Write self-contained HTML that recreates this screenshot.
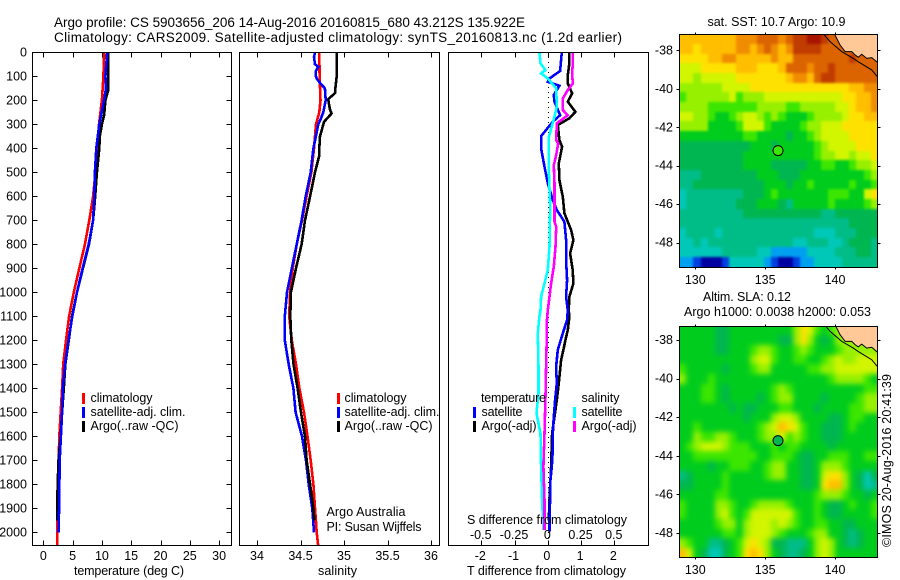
<!DOCTYPE html>
<html>
<head>
<meta charset="utf-8">
<title>Argo profile chart</title>
<style>
html,body{margin:0;padding:0;background:#fff;}
svg{display:block;}
text{font-family:"Liberation Sans",sans-serif;font-size:12.5px;fill:#000;}
text.big{font-size:13.5px;}
</style>
</head>
<body>
<svg id="chart" xmlns="http://www.w3.org/2000/svg" width="900" height="580" viewBox="0 0 900 580">
<defs>
<clipPath id="clip-temp"><rect x="32" y="52" width="199" height="493"/></clipPath>
<clipPath id="clip-sal"><rect x="239" y="52" width="200" height="493"/></clipPath>
<clipPath id="clip-diff"><rect x="448" y="52" width="200" height="493"/></clipPath>
<clipPath id="clip-map1"><rect x="679" y="34" width="198" height="233"/></clipPath>
<clipPath id="clip-map2"><rect x="679" y="326" width="198" height="231"/></clipPath>
<filter id="blur-sst" filterUnits="userSpaceOnUse" x="650" y="0" width="250" height="300" color-interpolation-filters="sRGB"><feGaussianBlur stdDeviation="1.2"/></filter>
<filter id="blur-sla" filterUnits="userSpaceOnUse" x="650" y="300" width="250" height="280" color-interpolation-filters="sRGB"><feGaussianBlur stdDeviation="2.6"/></filter>
</defs>
<rect x="0" y="0" width="900" height="580" fill="#fff"/>
<text class="big" x="54" y="27" textLength="471" lengthAdjust="spacing">Argo profile: CS 5903656_206 14-Aug-2016 20160815_680 43.212S 135.922E</text>
<text class="big" x="54" y="42" textLength="568" lengthAdjust="spacing">Climatology: CARS2009. Satellite-adjusted climatology: synTS_20160813.nc (1.2d earlier)</text>

<g id="maps"></g>
<g id="panels"></g>
<g id="labels"></g>

<text x="74" y="575" textLength="110" lengthAdjust="spacing">temperature (deg C)</text>
<text x="318" y="575" textLength="39" lengthAdjust="spacing">salinity</text>
<text x="467" y="575" textLength="159" lengthAdjust="spacing">T difference from climatology</text>
<text x="467" y="524" textLength="160" lengthAdjust="spacing">S difference from climatology</text>

<g>
<rect x="82" y="393" width="3" height="11" fill="#f00"/>
<rect x="82" y="407" width="3" height="11" fill="#00f"/>
<rect x="82" y="421" width="3" height="11" fill="#000"/>
<text x="90.5" y="402" textLength="62" lengthAdjust="spacing">climatology</text>
<text x="90.5" y="416" textLength="95" lengthAdjust="spacing">satellite-adj. clim.</text>
<text x="90.5" y="430" textLength="88" lengthAdjust="spacing">Argo(..raw -QC)</text>
</g>
<g>
<rect x="337" y="393" width="3" height="11" fill="#f00"/>
<rect x="337" y="407" width="3" height="11" fill="#00f"/>
<rect x="337" y="421" width="3" height="11" fill="#000"/>
<text x="344.5" y="402" textLength="62" lengthAdjust="spacing">climatology</text>
<text x="344.5" y="416" textLength="95" lengthAdjust="spacing">satellite-adj. clim.</text>
<text x="344.5" y="430" textLength="88" lengthAdjust="spacing">Argo(..raw -QC)</text>
</g>
<g>
<text x="481" y="402" textLength="65" lengthAdjust="spacing">temperature</text>
<text x="581.5" y="402" textLength="38" lengthAdjust="spacing">salinity</text>
<rect x="473" y="407" width="3" height="11" fill="#00f"/>
<rect x="473" y="421" width="3" height="11" fill="#000"/>
<rect x="573" y="407" width="3" height="11" fill="#0ff"/>
<rect x="573" y="421" width="3" height="11" fill="#f0f"/>
<text x="481.5" y="416" textLength="41" lengthAdjust="spacing">satellite</text>
<text x="481.5" y="430" textLength="55" lengthAdjust="spacing">Argo(-adj)</text>
<text x="581.5" y="416" textLength="41" lengthAdjust="spacing">satellite</text>
<text x="581.5" y="430" textLength="55" lengthAdjust="spacing">Argo(-adj)</text>
</g>
<text x="326.5" y="516" textLength="79" lengthAdjust="spacing">Argo Australia</text>
<text x="326.5" y="531" textLength="95" lengthAdjust="spacing">PI: Susan Wijffels</text>

<text x="707.5" y="26" textLength="138" lengthAdjust="spacing">sat. SST: 10.7 Argo: 10.9</text>
<text x="703" y="301" textLength="88" lengthAdjust="spacing">Altim. SLA: 0.12</text>
<text x="684" y="316" textLength="187" lengthAdjust="spacing">Argo h1000: 0.0038 h2000: 0.053</text>
<text transform="translate(891,547) rotate(-90)" x="0" y="0" textLength="173" lengthAdjust="spacing">©IMOS 20-Aug-2016 20:41:39</text>
</svg>

<script>
/* ---------- tick values ---------- */
const depthTicks = [0,100,200,300,400,500,600,700,800,900,1000,1100,1200,1300,1400,1500,1600,1700,1800,1900,2000];
const tempTicks = [0,5,10,15,20,25,30];
const salTicks = [34,34.5,35,35.5,36];
const salTickLabels = ['34','34.5','35','35.5','36'];
const tDiffTicks = [-2,-1,0,1,2];
const sDiffTicks = [-0.5,-0.25,0,0.25,0.5];
const sDiffTickLabels = ['-0.5','-0.25','0','0.25','0.5'];
const latTicks = [38,40,42,44,46,48];
const lonTicks = [130,135,140];

/* ---------- temperature profiles ---------- */
const tempClimDepth = [0,100,200,300,400,500,600,700,800,900,1000,1100,1200,1300,1400,1500,1600,1700,1800,1900,2000,2060];
const tempClimValue = [10.4,10.25,10.0,9.5,9.2,8.9,8.5,7.85,7.1,6.15,5.2,4.4,3.87,3.4,3.2,2.97,2.73,2.63,2.5,2.45,2.4,2.4];
const tempSatDepth = [0,100,150,200,300,400,500,600,700,800,900,1000,1100,1200,1300,1400,1500,1600,1700,1800,1900,2000];
const tempSatValue = [10.9,10.6,10.7,10.35,9.55,9.05,8.8,8.7,8.5,7.75,6.7,5.75,4.95,4.3,3.7,3.35,3.2,3.0,2.8,2.75,2.7,2.6];
const tempArgoDepth = [0,100,160,200,260,300,350,400,500,600,700,800,900,1000,1100,1200,1300,1400,1500,1600,1700,1800,1900,1950];
const tempArgoValue = [11.1,11.05,11.05,10.6,10.4,10.0,9.65,9.55,9.15,8.85,8.5,7.8,6.75,5.75,4.9,4.35,3.75,3.5,3.2,2.95,2.6,2.45,2.35,2.35];

/* ---------- salinity profiles ---------- */
const salClimDepth = [0,100,200,250,300,400,500,600,700,800,900,1000,1100,1200,1300,1400,1500,1600,1700,1800,1900,2000,2060];
const salClimValue = [34.716,34.72,34.73,34.716,34.678,34.655,34.625,34.57,34.517,34.456,34.41,34.38,34.37,34.40,34.448,34.487,34.54,34.58,34.617,34.648,34.667,34.686,34.705];
const salSatDepth = [0,20,50,60,80,95,110,130,150,200,250,280,300,400,500,600,700,800,900,1000,1100,1200,1300,1400,1500,1600,1700,1800,1900,2000];
const salSatValue = [34.667,34.655,34.667,34.705,34.674,34.674,34.686,34.73,34.78,34.79,34.762,34.73,34.705,34.648,34.617,34.56,34.513,34.456,34.40,34.345,34.32,34.32,34.364,34.418,34.444,34.517,34.563,34.594,34.636,34.655];
const salArgoDepth = [0,100,140,170,195,210,240,255,270,290,310,350,400,430,500,600,700,800,900,1000,1100,1200,1300,1400,1500,1600,1700,1800,1900,1950];
const salArgoValue = [34.916,34.916,34.904,34.896,34.82,34.824,34.84,34.858,34.82,34.77,34.755,34.724,34.716,34.716,34.667,34.61,34.552,34.513,34.448,34.39,34.383,34.394,34.42,34.467,34.506,34.552,34.57,34.61,34.648,34.66];

/* ---------- difference profiles ---------- */
const dTSatDepth = [0,78,109,123,139,178,206,262,289,349,400,477,546,616,657,706,782,866,949,1018,1074,1115,1171,1240,1310,1379,1449,1518,1588,1657,1726,1796,1865,1935,1997];
const dTSatValue = [0.42,0.37,0.05,0,0.35,0.18,0.2,0.37,0.15,-0.2,-0.2,-0.1,0,0.15,0.27,0.5,0.55,0.55,0.58,0.55,0.6,0.58,0.45,0.3,0.25,0.27,0.22,0.18,0.15,0.15,0.12,0.07,0.07,0.05,0.05];
const dTArgoDepth = [0,46,95,130,171,206,248,275,303,366,393,463,532,602,671,741,782,838,907,963,1018,1074,1101,1157,1199,1240,1282,1379,1449,1518,1588,1726,1865,1950];
const dTArgoValue = [0.65,0.65,0.6,0.6,0.73,0.6,0.83,0.65,0.3,0.35,0.43,0.33,0.35,0.45,0.5,0.7,0.77,0.67,0.75,0.77,0.65,0.63,0.65,0.6,0.53,0.47,0.4,0.33,0.27,0.2,0.13,0.1,0.05,0.03];
const dSSatDepth = [0,46,74,88,109,150,227,268,352,504,643,810,907,963,1018,1074,1101,1171,1310,1421,1504,1588,1726,1865,1990];
const dSSatValue = [-0.063,-0.055,-0.018,-0.05,0,0.063,0.068,0.05,0.008,0.008,0.018,0.013,0,-0.025,-0.05,-0.055,-0.063,-0.075,-0.07,-0.07,-0.085,-0.055,-0.05,-0.043,-0.033];
const dSArgoDepth = [0,46,88,130,157,192,241,262,296,366,380,428,470,546,616,706,727,810,893,963,1018,1074,1129,1199,1310,1449,1588,1726,1865,1949,1990];
const dSArgoValue = [0.188,0.188,0.183,0.188,0.15,0.113,0.113,0.15,0.068,0.063,0.078,0.063,0.045,0.05,0.05,0.05,0.063,0.058,0.045,0.025,0.013,0,-0.008,-0.008,-0.013,-0.018,-0.025,-0.033,-0.025,-0.025,-0.025];

/* ---------- coast and contour (degrees) ---------- */
const landLon = [139.86,140.36,140.72,141.2,141.43,141.67,141.91,142.27,142.63,143.06,143.06,139.86];
const landLat = [37.0,37.72,38.07,38.07,38.24,38.36,38.21,38.42,38.38,38.64,37.0,37.0];
const contourLon = [139.0,139.64,140.48,141.31,141.65,142.63,143.06];
const contourLat = [37.0,37.55,38.07,38.42,38.59,39.02,39.4];
const profileLon = [135.922];
const profileLat = [43.212];

/* ---------- satellite SST map, colour level per 0.5 degree cell ---------- */
const sstGrid = [
[12,12,12,12,12,12,12,12,13,13,13,14,14,14,13,14,15,15,16,16,15,14,14,14,14,14,14,14],
[12,12,11,12,12,12,12,12,13,13,12,13,14,13,12,13,15,15,15,15,14,14,14,14,14,14,14,14],
[11,11,11,11,12,12,13,13,12,12,12,12,12,13,12,12,14,14,14,14,14,14,14,14,15,14,14,14],
[10,10,10,11,11,11,11,11,12,12,12,11,11,11,12,14,14,14,13,14,14,15,14,14,14,14,14,14],
[10,10,9,10,10,10,10,10,11,11,11,11,11,11,11,12,13,13,12,14,15,15,14,14,14,14,14,14],
[9,9,9,9,9,9,10,10,10,10,11,11,11,11,11,11,11,11,11,11,11,11,11,11,12,12,13,13],
[8,9,9,9,9,9,9,10,8,9,9,9,10,10,10,10,10,10,10,10,10,10,10,11,11,12,12,13],
[9,9,9,9,8,8,8,8,8,8,8,9,9,9,9,8,8,9,9,9,9,9,10,10,11,12,12,13],
[10,10,9,9,8,7,7,8,9,10,10,9,8,9,8,7,7,7,8,9,9,9,9,10,11,11,12,12],
[9,9,9,9,7,7,7,7,8,10,10,10,8,7,7,7,7,8,9,9,10,10,10,11,11,11,11,11],
[7,7,7,7,7,7,7,7,7,8,8,7,7,7,7,6,7,7,8,9,10,10,10,10,11,11,11,11],
[6,6,6,6,6,6,6,6,6,6,7,7,7,6,7,7,7,7,7,8,9,10,10,10,10,11,11,11],
[6,6,6,6,6,6,6,6,6,7,7,7,7,7,7,7,7,7,7,8,9,9,10,10,9,10,10,11],
[6,6,6,6,6,6,6,6,6,7,7,7,7,6,6,6,6,6,7,7,8,8,7,7,8,9,9,10],
[5,5,5,6,6,6,6,6,6,6,6,7,7,7,6,6,6,7,7,7,7,7,7,7,7,7,8,9],
[5,5,6,6,6,6,6,6,6,6,6,6,7,7,7,6,7,7,8,7,7,7,7,7,8,7,7,8],
[4,5,5,5,5,5,5,5,5,6,6,6,7,8,7,7,7,7,7,7,7,8,8,8,7,7,10,11],
[4,5,5,5,5,5,5,5,6,6,6,7,7,7,6,5,7,7,7,7,7,8,7,7,7,7,8,9],
[5,5,5,5,5,5,5,5,5,6,6,6,6,6,6,6,6,6,6,6,5,5,6,6,6,6,6,6],
[5,5,5,5,5,5,5,5,5,5,5,5,5,5,5,5,5,5,5,5,5,5,5,5,6,6,6,6],
[4,5,5,5,5,4,5,5,5,5,5,5,5,5,5,5,5,5,5,4,4,4,5,5,5,6,6,6],
[4,4,5,4,5,5,5,5,5,5,5,5,5,5,5,5,4,4,5,5,5,4,4,5,6,6,6,5],
[4,4,4,4,4,4,5,5,5,5,5,4,4,3,3,3,3,3,4,4,4,4,5,5,5,6,6,5],
[3,3,2,1,1,1,2,4,4,4,4,4,3,2,1,1,2,3,3,4,4,4,4,5,5,5,5,5]
];

/* ---------- altimeter SLA map, colour level per 0.5 degree cell ---------- */
const slaGrid = [
[7,7,7,7,7,6,6,7,7,7,7,7,7,7,7,7,9,11,10,8,7,8,9,9,9,9,9,9],
[7,7,7,7,7,6,6,7,7,7,7,7,7,7,6,6,9,11,9,7,6,7,9,9,9,9,9,9],
[7,7,7,7,7,6,6,7,7,7,8,9,9,8,7,7,8,9,8,7,7,7,8,9,9,9,9,9],
[7,7,7,7,7,7,7,7,7,7,9,10,10,8,7,7,8,8,7,7,8,9,10,9,9,10,10,10],
[8,7,7,7,7,7,6,7,7,7,8,9,9,7,7,7,7,7,8,8,9,9,10,10,10,10,10,10],
[9,7,7,7,8,7,7,7,7,7,7,7,7,7,7,7,7,7,7,7,7,8,9,9,9,9,8,7],
[7,7,7,8,8,7,6,7,7,7,7,7,7,8,9,8,7,7,7,7,7,7,7,7,7,7,8,8],
[7,7,7,8,8,7,6,7,7,7,7,6,7,8,9,9,7,7,7,7,6,7,7,7,7,8,9,9],
[7,7,7,7,7,7,7,6,7,6,6,7,7,7,8,8,7,7,7,6,7,7,7,7,8,8,9,9],
[7,7,7,7,7,7,7,7,7,6,7,7,7,9,10,10,9,7,7,7,7,6,6,7,8,8,7,7],
[7,7,8,7,7,7,7,7,7,7,7,8,9,10,12,11,10,8,7,7,6,6,6,7,8,7,7,7],
[7,7,9,8,8,9,9,8,7,7,7,8,9,9,10,8,9,8,7,7,6,6,6,7,7,7,7,7],
[7,8,9,10,10,10,9,8,8,8,7,7,7,8,7,8,8,7,7,7,7,6,7,7,7,7,7,7],
[7,7,8,8,8,8,8,8,8,8,8,7,7,8,8,8,7,6,6,7,7,8,8,8,7,7,8,8],
[7,7,7,7,6,7,7,8,8,8,7,7,8,9,9,7,7,6,6,7,9,9,9,8,7,7,7,7],
[5,6,7,7,7,7,8,7,7,7,7,7,8,9,9,7,7,6,6,7,10,11,11,9,7,6,4,6],
[6,6,7,7,7,7,8,7,7,7,7,7,7,7,7,7,7,6,6,7,11,12,12,9,7,6,4,5],
[7,7,7,7,7,8,8,7,7,7,7,7,7,7,7,7,7,7,7,8,9,9,9,8,7,7,6,7],
[8,7,7,7,7,9,9,8,7,7,8,9,9,9,9,8,7,7,7,8,7,6,6,7,8,7,7,8],
[8,7,7,7,7,9,10,8,7,8,10,10,10,10,10,10,8,7,7,8,7,6,6,7,7,7,7,8],
[7,7,7,7,7,8,9,9,7,9,10,10,10,9,10,9,8,7,7,8,8,7,7,6,6,7,7,7],
[7,7,7,7,7,7,8,8,7,9,10,10,10,9,8,7,7,7,8,9,9,7,7,6,5,6,7,7],
[9,8,7,7,5,5,6,7,8,10,11,10,9,6,6,5,5,5,7,9,10,9,7,6,5,6,7,7],
[12,10,7,6,4,4,6,7,8,11,12,11,9,7,6,5,5,6,7,9,10,9,7,7,7,7,7,7]
];

/* ---------- plot set-up ---------- */
const SVGNS = 'http://www.w3.org/2000/svg';
const palette = ['#000080','#0000a0','#0040e0','#00a0f0','#00c8b8','#00bd88','#00b650','#00cc1e','#3ce600','#96f000','#d2f500','#ffe100','#ffbe00','#f08c00','#dc6400','#c03c00','#a81400'];
const panelsG = document.getElementById('panels');
const mapsG = document.getElementById('maps');
const labelsG = document.getElementById('labels');

function mk(tag, attrs, parent) {
  const e = document.createElementNS(SVGNS, tag);
  for (const k in attrs) e.setAttribute(k, attrs[k]);
  parent.appendChild(e);
  return e;
}
function linear(d0, d1, r0, r1) { return v => r0 + (v - d0) * (r1 - r0) / (d1 - d0); }

const yDepth = linear(0, 2000, 52.3, 532.3);
const xTemp = linear(0, 30, 43.3, 219.1);
const xSal = linear(34, 36, 257, 431);
const xTDiff = linear(-2, 2, 481.3, 614.3);
const xSDiff = linear(-0.5, 0.5, 481.3, 614.3);

function frame(x, y, w, h, name) {
  const r = mk('rect', {x: x + 0.5, y: y + 0.5, width: w, height: h, fill: 'none', stroke: '#000', 'stroke-width': 1, 'shape-rendering': 'crispEdges'}, labelsG);
  
  
}
function tick(x1, y1, x2, y2) {
  const l = mk('line', {x1: Math.round(x1) + 0.5, y1: Math.round(y1) + 0.5, x2: Math.round(x2) + 0.5, y2: Math.round(y2) + 0.5, stroke: '#000', 'stroke-width': 1, 'shape-rendering': 'crispEdges'}, labelsG);
  
  
}
function label(x, y, txt, anchor) {
  const t = mk('text', {x: x, y: y, 'text-anchor': anchor}, labelsG);
  t.textContent = txt;
  
  
}
function profile(xScale, depths, values, color, clip, name, width) {
  const pts = depths.map((d, i) => xScale(values[i]).toFixed(1) + ',' + yDepth(d).toFixed(1)).join(' ');
  const p = mk('polyline', {points: pts, fill: 'none', stroke: color, 'stroke-width': width || 2.6, 'stroke-linejoin': 'miter', 'clip-path': 'url(#' + clip + ')', 'shape-rendering': 'crispEdges'}, panelsG);
  
  
}

/* series */
profile(xTemp, tempClimDepth, tempClimValue, '#f00', 'clip-temp', 'temperature-climatology-line');
profile(xTemp, tempArgoDepth, tempArgoValue, '#000', 'clip-temp', 'temperature-argo-line');
profile(xTemp, tempSatDepth, tempSatValue, '#00f', 'clip-temp', 'temperature-satellite-line');
profile(xSal, salClimDepth, salClimValue, '#f00', 'clip-sal', 'salinity-climatology-line');
profile(xSal, salSatDepth, salSatValue, '#00f', 'clip-sal', 'salinity-satellite-line');
profile(xSal, salArgoDepth, salArgoValue, '#000', 'clip-sal', 'salinity-argo-line');

const zeroLine = mk('line', {x1: 548.5, y1: 52, x2: 548.5, y2: 545, stroke: '#000', 'stroke-width': 1, 'stroke-dasharray': '1 4', 'shape-rendering': 'crispEdges'}, panelsG);



profile(xTDiff, dTArgoDepth, dTArgoValue, '#000', 'clip-diff', 't-difference-argo-line');
profile(xTDiff, dTSatDepth, dTSatValue, '#00f', 'clip-diff', 't-difference-satellite-line');
profile(xSDiff, dSSatDepth, dSSatValue, '#0ff', 'clip-diff', 's-difference-satellite-line');
profile(xSDiff, dSArgoDepth, dSArgoValue, '#f0f', 'clip-diff', 's-difference-argo-line');

/* panel frames and ticks */
frame(32, 52, 199, 493, 'temperature-plot-frame');
frame(239, 52, 200, 493, 'salinity-plot-frame');
frame(448, 52, 200, 493, 'difference-plot-frame');

depthTicks.forEach(d => {
  const y = yDepth(d);
  tick(32, y, 37, y);
  tick(226, y, 231, y);
  label(27, y + 4, String(d), 'end');
});
tempTicks.forEach(v => {
  const x = xTemp(v);
  tick(x, 52, x, 57);
  tick(x, 540, x, 545);
  label(x, 560, String(v), 'middle');
});
salTicks.forEach((v, i) => {
  const x = xSal(v);
  tick(x, 52, x, 57);
  tick(x, 540, x, 545);
  label(x, 560, salTickLabels[i], 'middle');
});
tDiffTicks.forEach(v => {
  const x = xTDiff(v);
  tick(x, 52, x, 57);
  tick(x, 540, x, 545);
  label(x - 1, 560, String(v), 'middle');
});
sDiffTicks.forEach((v, i) => {
  label(xSDiff(v) - 0.5, 539, sDiffTickLabels[i], 'middle');
});

/* maps */
function drawMap(cfg) {
  const xLon = linear(130, 140, 695.3, 835);
  const yLat = linear(38, 48, cfg.y38, cfg.y48);
  const lonMin = 128.85, lonMax = 143.06;
  const latMin = cfg.latTop, latMax = cfg.latBottom;
  const rows = cfg.grid.length, cols = cfg.grid[0].length;
  const dLon = (lonMax - lonMin) / cols, dLat = (latMax - latMin) / rows;
  const clipGroup = mk('g', {'clip-path': 'url(#' + cfg.clip + ')'}, mapsG);
  
  
  const cellGroup = mk('g', {filter: 'url(#' + cfg.blur + ')'}, clipGroup);
  
  
  const bleed = 10;
  cfg.grid.forEach((row, r) => {
    row.forEach((lvl, c) => {
      let x0 = Math.round(xLon(lonMin + c * dLon)), x1 = Math.round(xLon(lonMin + (c + 1) * dLon));
      let y0 = Math.round(yLat(latMin + r * dLat)), y1 = Math.round(yLat(latMin + (r + 1) * dLat));
      if (c === 0) x0 -= bleed;
      if (c === cols - 1) x1 += bleed;
      if (r === 0) y0 -= bleed;
      if (r === rows - 1) y1 += bleed;
      const cell = mk('rect', {x: x0, y: y0, width: x1 - x0, height: y1 - y0, fill: palette[lvl], 'shape-rendering': 'crispEdges'}, cellGroup);
      
      
    });
  });
  const landPts = landLon.map((v, i) => xLon(v).toFixed(1) + ',' + yLat(landLat[i]).toFixed(1)).join(' ');
  const land = mk('polygon', {points: landPts, fill: '#ffc896', stroke: '#000', 'stroke-width': 1}, clipGroup);
  
  
  const contourPts = contourLon.map((v, i) => xLon(v).toFixed(1) + ',' + yLat(contourLat[i]).toFixed(1)).join(' ');
  const contour = mk('polyline', {points: contourPts, fill: 'none', stroke: '#000', 'stroke-width': 1}, clipGroup);
  
  
  const marker = mk('circle', {cx: xLon(profileLon[0]), cy: yLat(profileLat[0]), r: 5, fill: palette[cfg.markerLevel], stroke: '#000', 'stroke-width': 1}, mapsG);
  
  

  frame(679, cfg.top, 198, cfg.bottom - cfg.top, cfg.name + '-frame');
  latTicks.forEach(v => {
    const y = yLat(v);
    tick(676, y, 679, y);
    tick(877, y, 880, y);
    label(673, y + 4, '-' + v, 'end');
  });
  lonTicks.forEach(v => {
    const x = xLon(v);
    tick(x, cfg.top - 2, x, cfg.top);
    tick(x, cfg.bottom, x, cfg.bottom + 2);
    label(x, cfg.bottom + 17, String(v), 'middle');
  });
}
drawMap({grid: sstGrid, name: 'sst-map', clip: 'clip-map1', blur: 'blur-sst', top: 34, bottom: 267, y38: 50.3, y48: 242.7, latTop: 37.17, latBottom: 49.25, markerLevel: 8});
drawMap({grid: slaGrid, name: 'sla-map', clip: 'clip-map2', blur: 'blur-sla', top: 326, bottom: 557, y38: 340, y48: 533, latTop: 37.26, latBottom: 49.27, markerLevel: 6});
</script>
</body>
</html>
